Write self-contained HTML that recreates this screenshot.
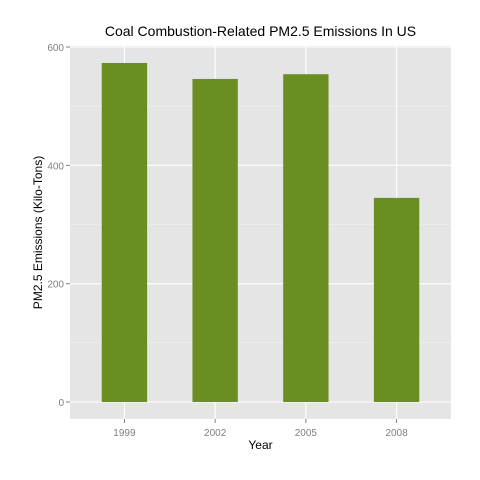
<!DOCTYPE html>
<html><head><style>body{margin:0;background:#fff}svg{display:block}text{font-family:"Liberation Sans",sans-serif}</style></head>
<body>
<svg id="c" width="480" height="480"></svg>
<script>
const categories=["1999","2002","2005","2008"];
const values=[573,546,554,345];
const yTicks=[0,200,400,600];
const yMinor=[100,300,500];
const NS="http://www.w3.org/2000/svg";
const svg=document.getElementById('c');
const L=70,R=451,T=46,B=419;
const y0=402,yPer=(402-47)/600;
function yS(v){return y0-v*yPer;}
const step=(R-L)/4.2;
function xS(i){return L+(i+0.6)*step;}
function el(t,a,txt){const e=document.createElementNS(NS,t);for(const k in a)e.setAttribute(k,a[k]);if(txt!=null)e.textContent=txt;svg.appendChild(e);return e;}
const panel=el('rect',{x:L,y:T,width:R-L,height:B-T,fill:'#e5e5e5'});


yMinor.forEach(v=>{const g=el('line',{x1:L,x2:R,y1:yS(v),y2:yS(v),stroke:'#f2f2f2','stroke-width':0.6});

});
yTicks.forEach(v=>{const g=el('line',{x1:L,x2:R,y1:yS(v),y2:yS(v),stroke:'#fff','stroke-width':1.1});


const tk=el('line',{x1:L-4,x2:L,y1:yS(v),y2:yS(v),stroke:'#7f7f7f'});


const t=el('text',{x:L-6,y:yS(v)+4,'text-anchor':'end','font-size':10,fill:'#7f7f7f'},v);

});
categories.forEach((c,i)=>{const g=el('line',{x1:xS(i),x2:xS(i),y1:T,y2:B,stroke:'#fff','stroke-width':1.1});

});
categories.forEach((c,i)=>{
const w=step*0.5;
const b=el('rect',{x:xS(i)-w/2,y:yS(values[i]),width:w,height:yS(0)-yS(values[i]),fill:'#6b8e23'});


const tk=el('line',{x1:xS(i),x2:xS(i),y1:B,y2:B+4,stroke:'#7f7f7f'});


const t=el('text',{x:xS(i),y:B+17,'text-anchor':'middle','font-size':10,fill:'#7f7f7f'},c);

});
const ti=el('text',{x:(L+R)/2,y:36,'text-anchor':'middle','font-size':14,fill:'#000'},'Coal Combustion-Related PM2.5 Emissions In US');


const xt=el('text',{x:(L+R)/2,y:449,'text-anchor':'middle','font-size':12,fill:'#000'},'Year');


const yt=el('text',{x:0,y:0,'text-anchor':'middle','font-size':12,fill:'#000',transform:'translate(42,'+((T+B)/2)+') rotate(-90)'},'PM2.5 Emissions (Kilo-Tons)');


</script>
</body></html>
